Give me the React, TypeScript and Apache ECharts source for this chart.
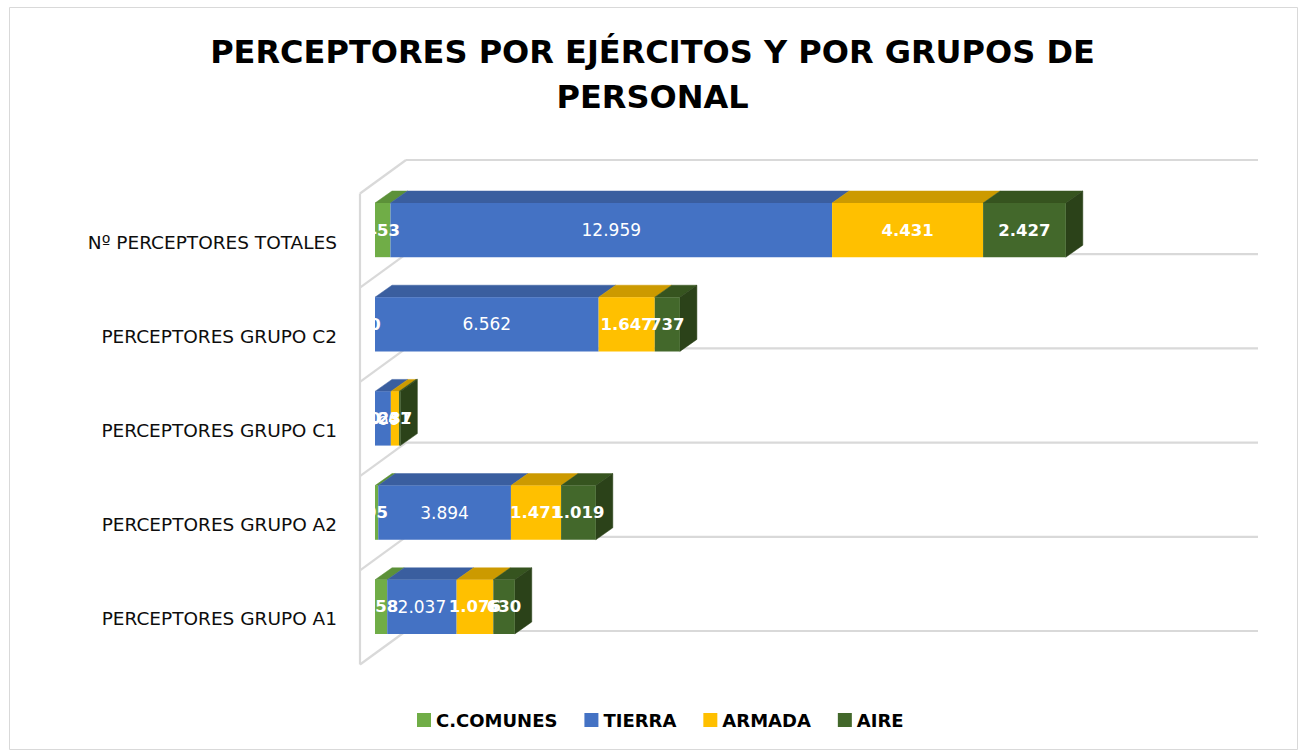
import React, { useEffect, useRef } from "react";
import * as echarts from "echarts";

const categories = [
  "PERCEPTORES GRUPO A1",
  "PERCEPTORES GRUPO A2",
  "PERCEPTORES GRUPO C1",
  "PERCEPTORES GRUPO C2",
  "Nº PERCEPTORES TOTALES",
];
const seriesNames = ["C.COMUNES", "TIERRA", "ARMADA", "AIRE"];
const comunes = [358, 95, 0, 0, 453];
const tierra = [2037, 3894, 466, 6562, 12959];
const armada = [1076, 1471, 237, 1647, 4431];
const aire = [630, 1019, 41, 737, 2427];
const xMax = 25000;

const FRONT = ["#70AD47", "#4472C4", "#FFC000", "#43682B"];
const TOP = ["#5C9139", "#3A5E9F", "#CC9A00", "#36541F"];
const SIDE = ["#4E7A30", "#2F4D85", "#A87F00", "#2B4219"];
const BOLD = [true, false, true, true];

const BAR_RATIO = 0.575;
const BDX = 17;
const BDY = -12;
const WALL_FRONT = [-15, 10.5];
const WALL_BACK = [31, -23];

const fmt = (v: number) => String(v).replace(/\B(?=(\d{3})+(?!\d))/g, ".");

export default function App() {
  const ref = useRef<HTMLDivElement>(null);
  useEffect(() => {
    if (!ref.current) return;
    const chart = echarts.init(ref.current, undefined, { renderer: "svg" });
    const all = [comunes, tierra, armada, aire];
    const font = "DejaVu Sans";

    const barSeries = all.map((vals, si) => {
      const data = vals.map((v, ci) => {
        let start = 0;
        for (let k = 0; k < si; k++) start += all[k][ci];
        return [start, start + v, ci, v];
      });
      return {
        type: "custom",
        name: seriesNames[si],
        coordinateSystem: "cartesian2d",
        clip: true,
        itemStyle: { color: FRONT[si] },
        encode: { x: [0, 1], y: 2 },
        data,
        z: 3,
        renderItem: (params: any, api: any) => {
          const s = api.value(0);
          const e = api.value(1);
          const cat = api.value(2);
          const v = api.value(3);
          const p0 = api.coord([s, cat]);
          const p1 = api.coord([e, cat]);
          const band = api.size([0, 1])[1];
          const h = band * BAR_RATIO;
          const x0 = p0[0];
          const x1 = p1[0];
          const yt = p0[1] - h / 2;
          const yb = p0[1] + h / 2;
          const children: any[] = [];
          if (x1 - x0 > 0.01) {
            children.push({
              type: "polygon",
              shape: { points: [[x0, yt], [x1, yt], [x1 + BDX, yt + BDY], [x0 + BDX, yt + BDY]] },
              style: { fill: TOP[si], stroke: TOP[si], lineWidth: 0.5 },
            });
            if (si === all.length - 1) {
              children.push({
                type: "polygon",
                shape: { points: [[x1, yt], [x1 + BDX, yt + BDY], [x1 + BDX, yb + BDY], [x1, yb]] },
                style: { fill: SIDE[si], stroke: SIDE[si], lineWidth: 0.5 },
              });
            }
            children.push({
              type: "rect",
              shape: { x: x0, y: yt, width: x1 - x0, height: h },
              style: { fill: FRONT[si] },
            });
          }
          children.push({
            type: "text",
            z2: 100,
            x: (x0 + x1) / 2,
            y: p0[1],
            style: {
              text: fmt(v),
              fill: "#ffffff",
              fontFamily: font,
              fontSize: BOLD[si] ? 16.5 : 17,
              fontWeight: BOLD[si] ? "bold" : "normal",
              align: "center",
              verticalAlign: "middle",
            },
          });
          return { type: "group", children };
        },
      };
    });

    const wallSeries = {
      type: "custom",
      name: "walls",
      coordinateSystem: "cartesian2d",
      silent: true,
      z: 1,
      data: [0, 1, 2, 3, 4, 5].map((i) => [0, 0, i]),
      encode: { x: 0, y: 1 },
      renderItem: (params: any, api: any) => {
        const i = api.value(2);
        const pa = api.coord([0, 0]);
        const pb = api.coord([xMax, 0]);
        const band = api.size([0, 1])[1];
        const y = pa[1] + band / 2 - i * band;
        const x0 = pa[0];
        const xe = pb[0];
        const st = { stroke: "#d9d9d9", lineWidth: 2.2 };
        const children: any[] = [
          {
            type: "line",
            shape: { x1: x0 + WALL_BACK[0], y1: y + WALL_BACK[1], x2: xe + WALL_BACK[0], y2: y + WALL_BACK[1] },
            style: st,
          },
          {
            type: "line",
            shape: { x1: x0 + WALL_FRONT[0], y1: y + WALL_FRONT[1], x2: x0 + WALL_BACK[0], y2: y + WALL_BACK[1] },
            style: st,
          },
        ];
        if (i === 0) {
          children.push({
            type: "line",
            shape: {
              x1: x0 + WALL_FRONT[0],
              y1: y + WALL_FRONT[1],
              x2: x0 + WALL_FRONT[0],
              y2: y - 5 * band + WALL_FRONT[1],
            },
            style: st,
          });
        }
        return { type: "group", children };
      },
    };

    chart.setOption({
      animation: false,
      backgroundColor: "#ffffff",
      title: {
        text: "PERCEPTORES POR EJÉRCITOS Y POR GRUPOS DE\nPERSONAL",
        left: "center",
        top: 29,
        padding: 0,
        textStyle: {
          fontFamily: font,
          fontSize: 32,
          fontWeight: "bold",
          color: "#000000",
          lineHeight: 45,
        },
      },
      graphic: [
        {
          type: "rect",
          silent: true,
          shape: { x: 9.5, y: 7.5, width: 1288, height: 742 },
          style: { fill: "none", stroke: "#d9d9d9", lineWidth: 1 },
        },
      ],
      legend: {
        data: seriesNames,
        bottom: 19,
        left: 412,
        icon: "rect",
        itemWidth: 14,
        itemHeight: 14,
        itemGap: 27,
        textStyle: { fontFamily: font, fontSize: 18, fontWeight: "bold", color: "#000000" },
      },
      grid: { left: 375, top: 183, width: 852, height: 471 },
      xAxis: {
        type: "value",
        min: 0,
        max: xMax,
        show: false,
      },
      yAxis: {
        type: "category",
        data: categories,
        axisLine: { show: false },
        axisTick: { show: false },
        splitLine: { show: false },
        axisLabel: {
          margin: 38,
          verticalAlign: "top",
          lineHeight: 24,
          fontFamily: font,
          fontSize: 18.5,
          color: "#0d0d0d",
        },
      },
      series: [wallSeries, ...barSeries],
    });
    return () => chart.dispose();
  }, []);
  return (
    <div
      ref={ref}
      style={{ position: "fixed", left: 0, top: 0, width: 1305, height: 753 }}
    />
  );
}
